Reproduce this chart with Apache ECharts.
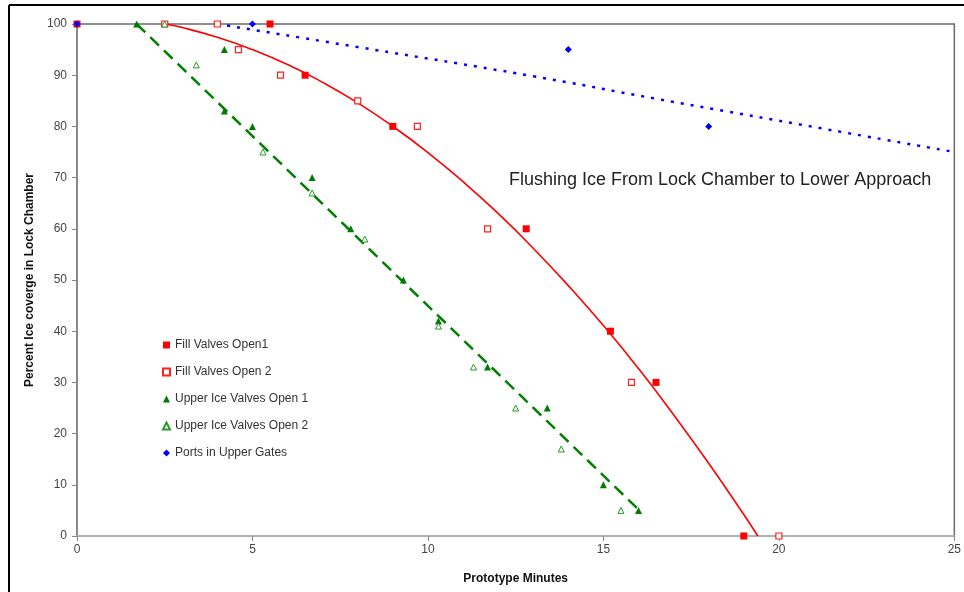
<!DOCTYPE html>
<html>
<head>
<meta charset="utf-8">
<script src="https://cdn.jsdelivr.net/npm/echarts@6/dist/echarts.min.js"></script>
<style>html,body{margin:0;padding:0;background:#fff}#c{width:964px;height:592px}</style>
</head>
<body>
<div id="c"></div>
<script>
// ---- data ----
const fillOpen1X = [0, 5.5, 6.5, 9, 12.8, 15.2, 16.5, 19];
const fillOpen1Y = [100, 100, 90, 80, 60, 40, 30, 0];
const fillOpen2X = [2.5, 4, 4.6, 5.8, 8, 9.7, 11.7, 15.8, 20];
const fillOpen2Y = [100, 100, 95, 90, 85, 80, 60, 30, 0];
const upper1X = [1.7, 4.2, 4.2, 5, 6.7, 7.8, 9.3, 10.3, 11.7, 13.4, 15, 16];
const upper1Y = [100, 95, 83, 80, 70, 60, 50, 42, 33, 25, 10, 5];
const upper2X = [2.5, 3.4, 5.3, 6.7, 8.2, 10.3, 11.3, 12.5, 13.8, 15.5];
const upper2Y = [100, 92, 75, 67, 58, 41, 33, 25, 17, 5];
const portsX = [0, 5, 14, 18];
const portsY = [100, 100, 95, 80];
// trendlines
const redTrendX = [2.5, 3, 4, 5, 6, 7, 8, 9, 10, 11, 12, 13, 14, 15, 16, 17, 18, 19, 19.4];
const redTrendY = [100, 99.3, 97.4, 95, 92.1, 88.6, 84.6, 80, 74.9, 69.2, 63, 56.2, 48.9, 41.1, 32.7, 23.7, 14.2, 4.2, 0];
const greenTrendX = [1.7, 16.1];
const greenTrendY = [100, 4.5];
const blueTrendX = [4, 8, 13, 16.5, 25];
const blueTrendY = [100, 95.5, 89.8, 85.4, 75];
const seriesNames = ['Fill Valves Open1', 'Fill Valves Open 2', 'Upper Ice Valves Open 1', 'Upper Ice Valves Open 2', 'Ports in Upper Gates'];
const xTicks = [0, 5, 10, 15, 20, 25];
const yTicks = [0, 10, 20, 30, 40, 50, 60, 70, 80, 90, 100];
const annotation = 'Flushing Ice From Lock Chamber to Lower Approach';
const xTitle = 'Prototype Minutes';
const yTitle = 'Percent Ice coverge in Lock Chamber';

const zip = (xs, ys) => xs.map((x, i) => [x, ys[i]]);
const FONT = '"Liberation Sans", Arial, sans-serif';

const chart = echarts.init(document.getElementById('c'), null, {renderer: 'canvas'});
chart.setOption({
  animation: false,
  backgroundColor: '#fff',
  textStyle: {fontFamily: FONT},
  grid: {left: 77, right: 7, top: 24, bottom: 56, show: true, borderColor: '#6a6a6a', borderWidth: 1.5, backgroundColor: 'transparent'},
  xAxis: {
    type: 'value', min: xTicks[0], max: xTicks[xTicks.length - 1], interval: 5,
    name: xTitle, nameLocation: 'middle', nameGap: 37,
    nameTextStyle: {fontFamily: FONT, fontSize: 12, fontWeight: 'bold', color: '#111'},
    axisLine: {lineStyle: {color: '#b0b0b0', width: 2}},
    axisTick: {show: true, length: 5, lineStyle: {color: '#888'}},
    axisLabel: {fontFamily: FONT, fontSize: 12, color: '#444', margin: 8},
    splitLine: {show: false}
  },
  yAxis: {
    type: 'value', min: yTicks[0], max: yTicks[yTicks.length - 1], interval: 10,
    name: yTitle, nameLocation: 'middle', nameGap: 41,
    nameTextStyle: {fontFamily: FONT, fontSize: 12, fontWeight: 'bold', color: '#111'},
    axisLine: {show: true, lineStyle: {color: '#888', width: 1.5}},
    axisTick: {show: true, length: 5, lineStyle: {color: '#888'}},
    axisLabel: {fontFamily: FONT, fontSize: 12, color: '#444', margin: 10},
    splitLine: {show: false}
  },
  legend: {
    orient: 'vertical', left: 157, top: 334, itemGap: 15, itemWidth: 7, itemHeight: 7,
    data: seriesNames,
    textStyle: {fontFamily: FONT, fontSize: 12, color: '#333'}
  },
  graphic: [
    {type: 'text', left: 509, top: 171, style: {text: annotation, fontFamily: FONT, fontSize: 18, fill: '#222'}},
    {type: 'line', shape: {x1: 9, y1: 5, x2: 964, y2: 5}, style: {stroke: '#000', lineWidth: 2}},
    {type: 'line', shape: {x1: 9, y1: 5, x2: 9, y2: 592}, style: {stroke: '#000', lineWidth: 2}}
  ],
  series: [
    {type: 'line', data: zip(blueTrendX, blueTrendY), smooth: true, symbol: 'none', silent: true,
      lineStyle: {color: '#0000ff', width: 2.5, type: [3, 7]}, z: 2},
    {type: 'line', data: zip(redTrendX, redTrendY), smooth: true, symbol: 'none', silent: true,
      lineStyle: {color: '#ff0000', width: 1.6}, z: 2},
    {type: 'line', data: zip(greenTrendX, greenTrendY), symbol: 'none', silent: true,
      lineStyle: {color: '#008000', width: 2.5, type: [12, 7]}, z: 2},
    {name: seriesNames[0], type: 'scatter', data: zip(fillOpen1X, fillOpen1Y), symbol: 'rect', symbolSize: 7,
      itemStyle: {color: '#ff0000', opacity: 1}, z: 5},
    {name: seriesNames[1], type: 'scatter', data: zip(fillOpen2X, fillOpen2Y), symbol: 'rect', symbolSize: 6,
      itemStyle: {color: '#fff', borderColor: '#ff2020', borderWidth: 1.2, opacity: 1}, z: 5},
    {name: seriesNames[2], type: 'scatter', data: zip(upper1X, upper1Y), symbol: 'triangle', symbolSize: 7,
      itemStyle: {color: '#007a00', opacity: 1}, z: 5},
    {name: seriesNames[3], type: 'scatter', data: zip(upper2X, upper2Y), symbol: 'triangle', symbolSize: 6,
      itemStyle: {color: '#fff', borderColor: '#2a9a2a', borderWidth: 1, opacity: 1}, z: 5},
    {name: seriesNames[4], type: 'scatter', data: zip(portsX, portsY), symbol: 'diamond', symbolSize: 7,
      itemStyle: {color: '#0000ff', opacity: 1}, z: 5}
  ]
});
</script>
</body>
</html>
